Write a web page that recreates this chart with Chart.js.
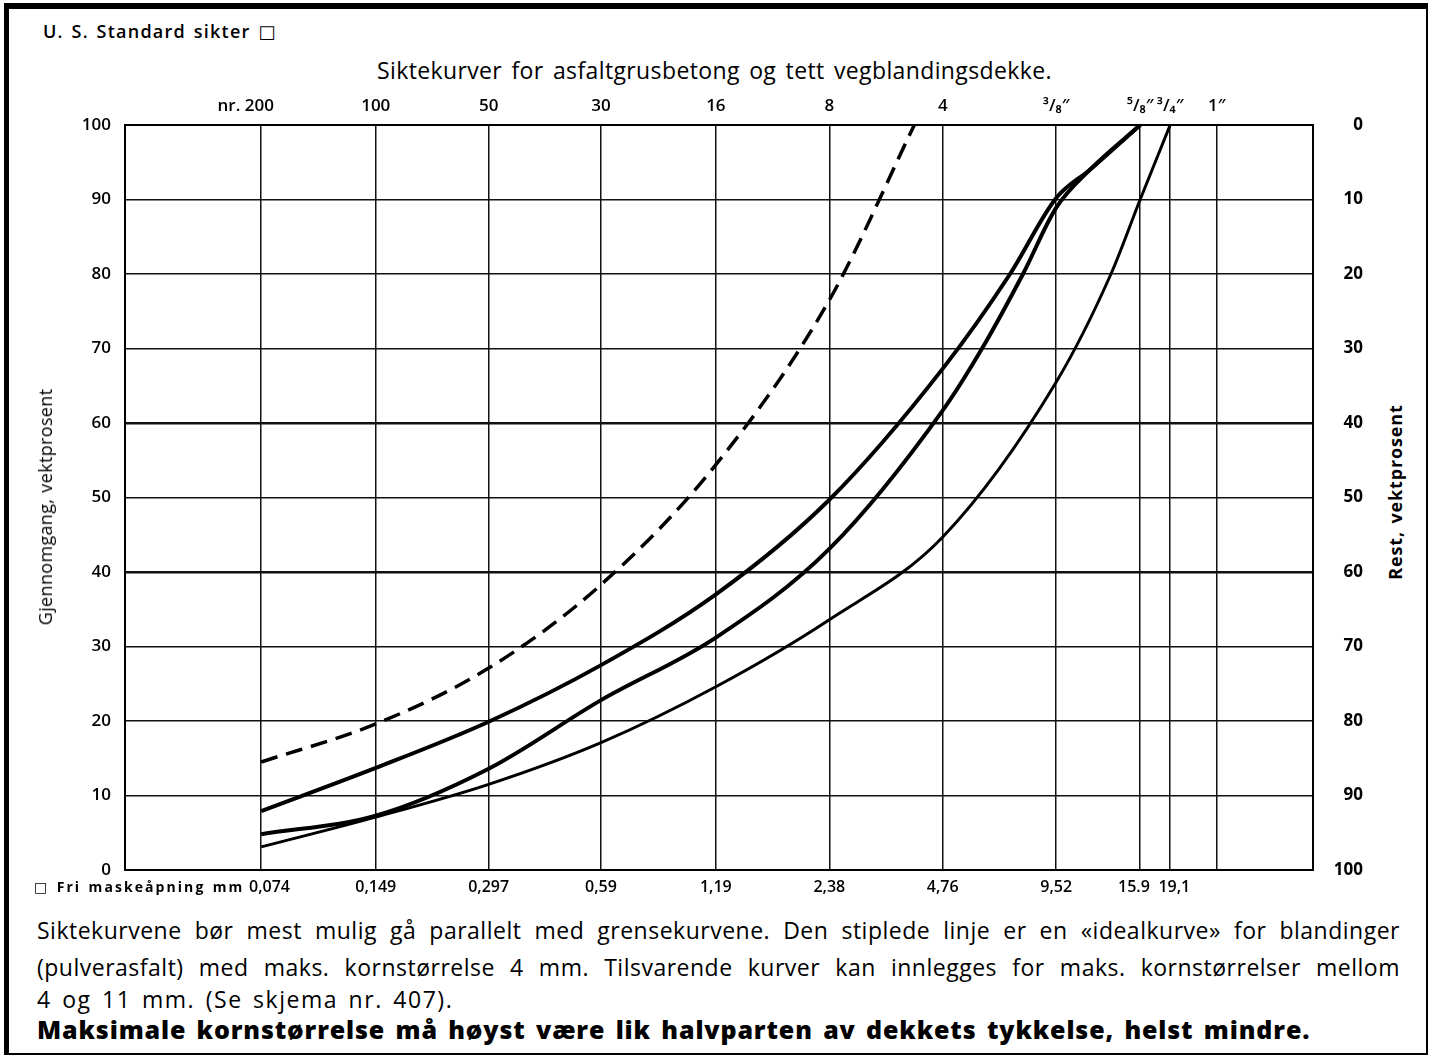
<!DOCTYPE html>
<html>
<head>
<meta charset="utf-8">
<script src="https://cdn.jsdelivr.net/npm/chart.js@4.4.1/dist/chart.umd.min.js"></script>
<style>
    html, body { margin: 0; padding: 0; background: #fff; }
    body { width: 1429px; height: 1058px; position: relative; overflow: hidden; font-family: "Open Sans", Lato, sans-serif; color: #000; }
    #frame { position: absolute; left: 4px; top: 3px; width: 1417px; height: 1044px; border-top: 6px solid #000; border-left: 5px solid #000; border-right: 2px solid #000; border-bottom: 2px solid #000; }
    #wrap { position: absolute; left: 0; top: 0; width: 1363px; height: 900px; }
    .txt { position: absolute; white-space: nowrap; }
    #std { left: 43px; top: 19px; font-size: 18px; font-weight: 600; }
    #title { left: 377px; top: 54px; font-size: 23px; }
    #ytitle { left: 45px; top: 507px; transform: translate(-50%, -50%) rotate(-90deg); font-size: 18px; }
    #y2title { left: 1395px; top: 492px; transform: translate(-50%, -50%) rotate(-90deg); font-size: 18px; font-weight: 700; }
    #fri { left: 34px; top: 877px; font-size: 14px; font-weight: 700; }
    .box { font-family: "DejaVu Sans", sans-serif; font-weight: 400; }
    .note { position: absolute; left: 37px; font-size: 23px; white-space: nowrap; }
    .just { width: 1363px; text-align: justify; text-align-last: justify; }
    #n1 { top: 914px; }
    #n2 { top: 951px; }
    #n3 { top: 983px; }
    #n4 { top: 1012px; font-size: 25px; font-weight: 800; }
</style>
</head>
<body>
<div id="frame"></div>
<div id="std" class="txt">U. S. Standard sikter <span class="box">□</span></div>
<div id="title" class="txt">Siktekurver for asfaltgrusbetong og tett vegblandingsdekke.</div>
<div id="wrap"><canvas id="chart"></canvas></div>
<div id="ytitle" class="txt">Gjennomgang, vektprosent</div>
<div id="y2title" class="txt">Rest, vektprosent</div>
<div id="fri" class="txt"><span class="box">□</span> Fri maskeåpning mm</div>
<div id="n1" class="note">Siktekurvene bør mest mulig gå parallelt med grensekurvene. Den stiplede linje er en «idealkurve» for blandinger</div>
<div id="n2" class="note">(pulverasfalt) med maks. kornstørrelse 4 mm. Tilsvarende kurver kan innlegges for maks. kornstørrelser mellom</div>
<div id="n3" class="note">4 og 11 mm. (Se skjema nr. 407).</div>
<div id="n4" class="note">Maksimale kornstørrelse må høyst være lik halvparten av dekkets tykkelse, helst mindre.</div>

<script>
// Sikter (mm) og etiketter
var sieveSizes = [0.074, 0.149, 0.297, 0.59, 1.19, 2.38, 4.76, 9.52, 15.9, 19.1, 25.4];
var sieveNumbers = ['nr. 200       ', '100', '50', '30', '16', '8', '4', '³/₈″', '⁵/₈″', '³/₄″', '1″'];
var openingLabels = ['    0,074', '0,149', '0,297', '0,59', '1,19', '2,38', '4,76', '9,52', '15.9   ', '  19,1', ''];
var percentTicks = [0, 10, 20, 30, 40, 50, 60, 70, 80, 90, 100];

// Idealkurve (stiplet)
var idealSize = [0.074, 0.149, 0.297, 0.59, 1.19, 2.38, 4.0];
var idealPass = [14.5, 19.6, 27.1, 38.3, 54.4, 76.5, 100];

// Øvre grensekurve
var upperSize = [0.074, 0.149, 0.297, 0.59, 1.19, 2.38, 4.76, 7.18, 9.52, 11.7, 15.9];
var upperPass = [7.9, 13.7, 19.9, 27.5, 37.0, 49.7, 67.3, 80, 90.2, 94, 100];

// Midtre kurve
var middleSize = [0.074, 0.149, 0.297, 0.59, 1.19, 2.38, 4.76, 6.05, 7.77, 9.52, 11.7, 15.9];
var middlePass = [4.8, 7.3, 13.6, 22.8, 31.2, 43.1, 61.7, 70, 80, 88.9, 94, 100];

// Nedre grensekurve
var lowerSize = [0.074, 0.149, 0.297, 0.59, 1.19, 2.38, 4.76, 9.52, 13.3, 15.9, 19.1];
var lowerPass = [3.1, 7.1, 11.5, 17.1, 24.6, 33.6, 44.7, 65.5, 80, 90, 100];

var X_MIN = 0.0322;
var X_MAX = 45.7;

// Give a text line the width it has in the print: part of the extra room
// goes to letter spacing, the rest to the word gaps
function fitText(id, target, share) {
    var el = document.getElementById(id);
    var text = el.textContent;
    var spaces = text.split(' ').length - 1;
    var extra = target - el.offsetWidth;
    var ls = extra * share / text.length;
    el.style.letterSpacing = ls + 'px';
    if (spaces > 0) {
        el.style.wordSpacing = ((target - el.offsetWidth) / spaces) + 'px';
    }
}

function justifyText(id, ls) {
    var el = document.getElementById(id);
    el.style.letterSpacing = ls + 'px';
    el.classList.add('just');
}

fitText('std', 234, 0.8);
fitText('title', 675, 0.6);
fitText('ytitle', 237, 0.9);
fitText('y2title', 175, 0.9);
fitText('fri', 210, 0.9);
justifyText('n1', 0.5);
justifyText('n2', 0.5);
fitText('n3', 416, 0.7);
fitText('n4', 1273, 0.7);

function toPoints(xs, ys) {
    return xs.map(function(x, i) {
        return { x: x, y: ys[i] };
    });
}

function sieveTicks(scale) {
    scale.ticks = sieveSizes.map(function(v) {
        return { value: v };
    });
}

function percentTicksFn(scale) {
    scale.ticks = percentTicks.map(function(v) {
        return { value: v };
    });
}

var tickFont = { family: 'Open Sans', size: 16, weight: '600' };

var chart = new Chart(document.getElementById('chart'), {
    type: 'line',
    data: {
        datasets: [
            {
                label: 'Idealkurve',
                data: toPoints(idealSize, idealPass),
                borderColor: '#000',
                borderWidth: 3.5,
                borderDash: [17, 9],
                pointRadius: 0,
                cubicInterpolationMode: 'monotone',
                fill: false
            },
            {
                label: 'Øvre grense',
                data: toPoints(upperSize, upperPass),
                borderColor: '#000',
                borderWidth: 4,
                pointRadius: 0,
                cubicInterpolationMode: 'monotone',
                fill: false
            },
            {
                label: 'Midtre',
                data: toPoints(middleSize, middlePass),
                borderColor: '#000',
                borderWidth: 4,
                pointRadius: 0,
                cubicInterpolationMode: 'monotone',
                fill: false
            },
            {
                label: 'Nedre grense',
                data: toPoints(lowerSize, lowerPass),
                borderColor: '#000',
                borderWidth: 3,
                pointRadius: 0,
                cubicInterpolationMode: 'monotone',
                fill: false
            }
        ]
    },
    options: {
        responsive: true,
        maintainAspectRatio: false,
        animation: false,
        layout: { padding: 0 },
        plugins: {
            legend: { display: false },
            tooltip: { enabled: false },
            title: { display: false }
        },
        scales: {
            x: {
                type: 'logarithmic',
                position: 'bottom',
                min: X_MIN,
                max: X_MAX,
                afterBuildTicks: sieveTicks,
                afterFit: function(scale) { scale.height = 30; },
                grid: { color: '#111', lineWidth: 1.5, drawTicks: false },
                border: { color: '#000', width: 2 },
                ticks: {
                    autoSkip: false,
                    maxRotation: 0,
                    minRotation: 0,
                    padding: 8,
                    color: '#000',
                    font: tickFont,
                    callback: function(value, index) { return openingLabels[index]; }
                }
            },
            x2: {
                type: 'logarithmic',
                position: 'top',
                min: X_MIN,
                max: X_MAX,
                afterBuildTicks: sieveTicks,
                afterFit: function(scale) { scale.height = 125; },
                grid: { display: false, drawTicks: false },
                border: { color: '#000', width: 2 },
                ticks: {
                    autoSkip: false,
                    maxRotation: 0,
                    minRotation: 0,
                    padding: 9,
                    color: '#000',
                    font: { family: 'Open Sans', size: 17, weight: '600' },
                    callback: function(value, index) { return sieveNumbers[index]; }
                }
            },
            y: {
                position: 'left',
                min: 0,
                max: 100,
                afterBuildTicks: percentTicksFn,
                afterFit: function(scale) { scale.width = 125; },
                grid: {
                    color: '#111',
                    drawTicks: false,
                    lineWidth: function(ctx) {
                        var v = ctx.tick && ctx.tick.value;
                        return (v === 40 || v === 60) ? 2.5 : 1.5;
                    }
                },
                border: { color: '#000', width: 2 },
                ticks: { padding: 14, color: '#000', font: { family: 'Open Sans', size: 17, weight: '600' } }
            },
            y2: {
                position: 'right',
                min: 0,
                max: 100,
                reverse: true,
                afterBuildTicks: percentTicksFn,
                afterFit: function(scale) { scale.width = 50; },
                grid: { display: false, drawTicks: false },
                border: { color: '#000', width: 2 },
                ticks: { padding: 18, crossAlign: 'far', color: '#000', font: { family: 'Open Sans', size: 17, weight: '700' } }
            }
        }
    }
});
</script>
</body>
</html>
